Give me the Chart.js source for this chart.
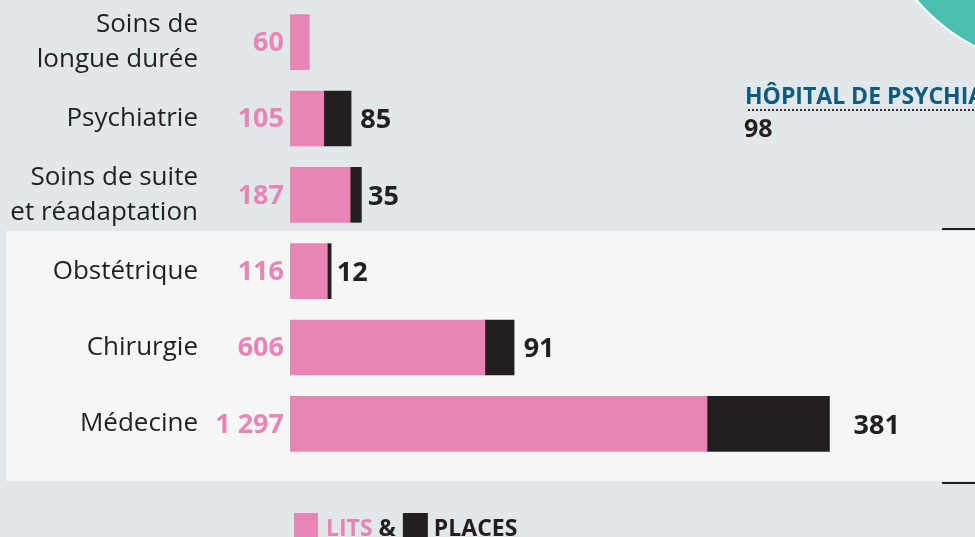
<!DOCTYPE html>
<html>
<head>
<meta charset="utf-8">
<script src="https://cdn.jsdelivr.net/npm/chart.js@4"></script>
<style>
  html, body { margin: 0; padding: 0; background: #e2e7ea; }
  #wrap { width: 975px; height: 537px; position: relative; }
</style>
</head>
<body>
<div id="wrap"><canvas id="lits-places"></canvas></div>
<script>
// données
var categories = [['Soins de', 'longue durée'], 'Psychiatrie', ['Soins de suite', 'et réadaptation'], 'Obstétrique', 'Chirurgie', 'Médecine'];
var lits = [60, 105, 187, 116, 606, 1297];
var places = [null, 85, 35, 12, 91, 381];
var legendLabels = ['LITS', 'PLACES'];
var sideTitle = 'HÔPITAL DE PSYCHIATRIE';
var sideValue = '98';

var ROSE = '#e985b4';
var NOIR = '#231f20';
var FONT = "'Open Sans', sans-serif";

function fmt(v) {
    return String(v).replace(/\B(?=(\d{3})+(?!\d))/g, ' ');
}

// fond, panneau clair, cercle, titre de droite
var decor = {
    id: 'decor',
    beforeDraw: function (chart) {
        var c = chart.ctx;
        c.save();
        c.fillStyle = '#e2e7ea';
        c.fillRect(0, 0, chart.width, chart.height);
        c.fillStyle = '#f5f7f6';
        c.fillRect(6, 231, chart.width - 6, 250);
        c.strokeStyle = '#231f20';
        c.lineWidth = 2;
        c.beginPath();
        c.moveTo(942, 229); c.lineTo(975, 229);
        c.moveTo(942, 483); c.lineTo(975, 483);
        c.stroke();
        c.beginPath();
        c.arc(1060, -120, 187, 0, Math.PI * 2);
        c.fillStyle = '#48bfb1';
        c.fill();
        c.strokeStyle = '#ffffff';
        c.lineWidth = 2;
        c.stroke();

        c.fillStyle = '#0d5b7e';
        c.font = "bold 23px " + FONT;
        c.textBaseline = 'alphabetic';
        c.textAlign = 'left';
        c.fillText(sideTitle, 745, 104);
        c.fillStyle = '#333';
        for (var x = 748; x < 975; x += 4) {
            c.fillRect(x, 109, 2, 2);
        }
        c.fillStyle = NOIR;
        c.font = "bold 25px " + FONT;
        c.fillText(sideValue, 744, 137);
        c.restore();
    }
};

// étiquettes des valeurs + légende
var valeurs = {
    id: 'valeurs',
    afterDatasetsDraw: function (chart) {
        var c = chart.ctx;
        var m0 = chart.getDatasetMeta(0);
        var m1 = chart.getDatasetMeta(1);
        c.save();
        c.font = "bold 27px " + FONT;
        c.textBaseline = 'middle';
        for (var i = 0; i < lits.length; i++) {
            var b0 = m0.data[i];
            c.fillStyle = ROSE;
            c.textAlign = 'right';
            c.fillText(fmt(lits[i]), b0.base - 6, b0.y + 1);
            if (places[i]) {
                var b1 = m1.data[i];
                c.fillStyle = NOIR;
                c.textAlign = 'left';
                c.fillText(fmt(places[i]), b1.x + 5 + places[i] * 0.05, b1.y + 2);
            }
        }

        // légende
        c.font = "bold 23px " + FONT;
        c.textBaseline = 'alphabetic';
        c.textAlign = 'left';
        var x = 294, y = 536;
        c.fillStyle = ROSE;
        c.fillRect(x, 513, 24, 26);
        x += 32;
        c.fillText(legendLabels[0], x, y);
        x += c.measureText(legendLabels[0]).width + 6;
        c.fillStyle = NOIR;
        c.fillText('&', x, y);
        x += c.measureText('&').width + 7;
        c.fillRect(x, 513, 25, 26);
        x += 31;
        c.fillText(legendLabels[1], x, y);
        c.restore();
    }
};

var ctx = document.getElementById('lits-places').getContext('2d');
var graphique = new Chart(ctx, {
    type: 'bar',
    data: {
        labels: categories,
        datasets: [{
            label: legendLabels[0],
            data: lits,
            backgroundColor: ROSE,
            borderWidth: 0,
            barThickness: 55
        }, {
            label: legendLabels[1],
            data: places,
            backgroundColor: NOIR,
            borderWidth: 0,
            barThickness: 55
        }]
    },
    options: {
        indexAxis: 'y',
        responsive: true,
        maintainAspectRatio: false,
        animation: false,
        layout: {
            padding: { top: 4, bottom: 75, left: 0, right: 42 }
        },
        plugins: {
            legend: { display: false },
            tooltip: { enabled: false }
        },
        scales: {
            x: {
                stacked: true,
                display: false,
                min: 0,
                max: 2000
            },
            y: {
                stacked: true,
                border: { display: false },
                grid: { display: false, drawTicks: false },
                ticks: {
                    color: NOIR,
                    padding: 92,
                    font: { family: FONT, size: 26, lineHeight: 1.35 }
                },
                afterFit: function (scale) {
                    scale.width = 290;
                    scale.paddingTop = 0;
                    scale.paddingBottom = 0;
                }
            }
        }
    },
    plugins: [decor, valeurs]
});
</script>
</body>
</html>
